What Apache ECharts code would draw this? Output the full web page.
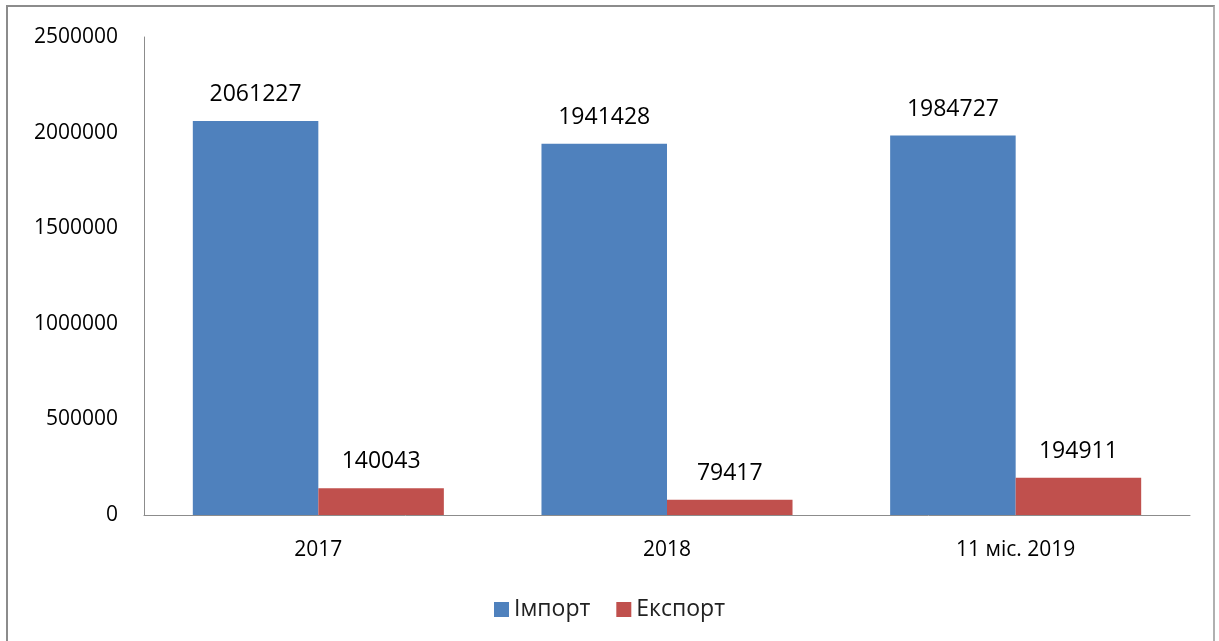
<!DOCTYPE html>
<html>
<head>
<meta charset="utf-8">
<script src="https://cdn.jsdelivr.net/npm/echarts@6/dist/echarts.min.js"></script>
<style>
  html, body { margin: 0; padding: 0; background: #fff; }
  #frame {
    position: absolute; left: 6px; top: 5px; width: 1209px; height: 650px;
    border: 2px solid #8c8c8c; border-right-color: #b0b0b0; box-sizing: border-box;
  }
  #chart { position: absolute; left: 0; top: 0; width: 1219px; height: 641px; }
</style>
</head>
<body>
<div id="frame"></div>
<div id="chart"></div>
<script>
// дані
var categories = ['2017', '2018', '11 міс. 2019']
var importValues = [2061227, 1941428, 1984727]
var exportValues = [140043, 79417, 194911]
var seriesNames = ['Імпорт', 'Експорт']

var font = '"Open Sans", Lato, sans-serif'

var chart = echarts.init(document.getElementById('chart'))
chart.setOption({
  animation: false,
  textStyle: { fontFamily: font, color: '#000' },
  legend: {
    bottom: 15,
    left: 'center',
    itemWidth: 15,
    itemHeight: 15,
    itemGap: 26,
    icon: 'rect',
    textStyle: { fontSize: 23, fontFamily: font, color: '#222' },
    data: seriesNames
  },
  grid: { left: 144, right: 29, top: 37, bottom: 126 },
  xAxis: {
    type: 'category',
    data: categories,
    axisLine: { lineStyle: { color: '#8c8c8c', width: 1 } },
    axisTick: { show: false },
    axisLabel: { fontSize: 21, color: '#000', margin: 25 }
  },
  yAxis: {
    type: 'value',
    min: 0,
    max: 2500000,
    interval: 500000,
    axisLine: { show: true, lineStyle: { color: '#8c8c8c', width: 1 } },
    axisTick: { show: false },
    splitLine: { show: false },
    axisLabel: { fontSize: 21, color: '#000', margin: 26, formatter: function (v) { return String(v) } }
  },
  series: [
    {
      name: seriesNames[0],
      type: 'bar',
      data: importValues,
      barGap: '0%',
      barCategoryGap: '28%',
      itemStyle: { color: '#4f81bd' },
      label: { show: true, position: 'top', distance: 15, fontSize: 23, color: '#000' }
    },
    {
      name: seriesNames[1],
      type: 'bar',
      data: exportValues,
      itemStyle: { color: '#c0504d' },
      label: { show: true, position: 'top', distance: 15, fontSize: 23, color: '#000' }
    }
  ]
})
window.onresize = chart.resize
</script>
</body>
</html>
